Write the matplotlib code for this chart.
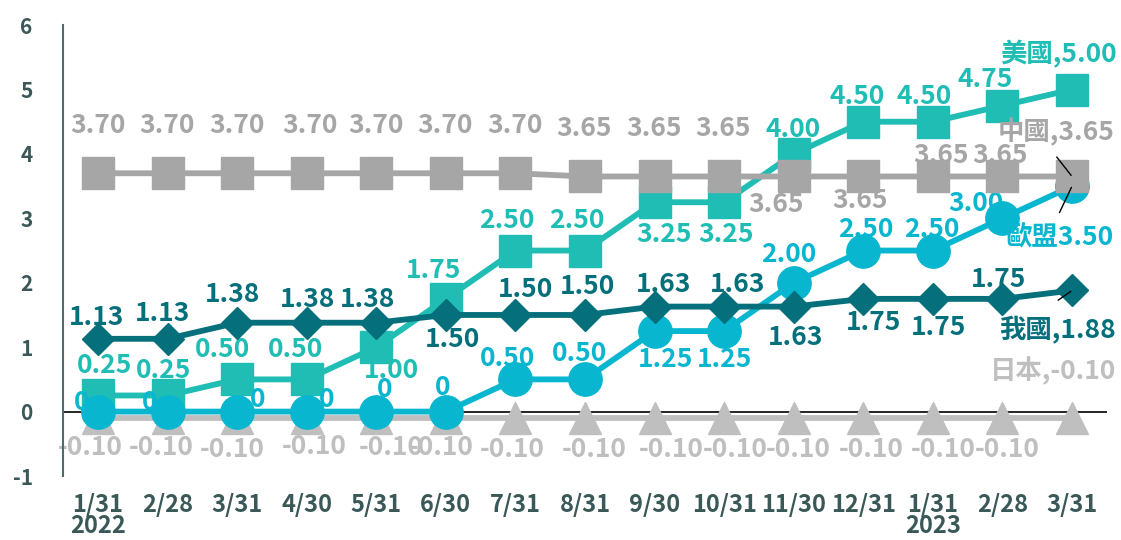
import matplotlib.pyplot as plt

plt.rcParams['font.family'] = ['Noto Sans CJK TC', 'DejaVu Sans']
plt.rcParams['font.weight'] = 'bold'

# 月底日期
dates = ['1/31\n2022', '2/28', '3/31', '4/30', '5/31', '6/30', '7/31', '8/31',
         '9/30', '10/31', '11/30', '12/31', '1/31\n2023', '2/28', '3/31']

# 政策利率 (%)
us = [0.25, 0.25, 0.50, 0.50, 1.00, 1.75, 2.50, 2.50, 3.25, 3.25, 4.00, 4.50, 4.50, 4.75, 5.00]
eu = [0, 0, 0, 0, 0, 0, 0.50, 0.50, 1.25, 1.25, 2.00, 2.50, 2.50, 3.00, 3.50]
tw = [1.13, 1.13, 1.38, 1.38, 1.38, 1.50, 1.50, 1.50, 1.63, 1.63, 1.63, 1.75, 1.75, 1.75, 1.88]
cn = [3.70, 3.70, 3.70, 3.70, 3.70, 3.70, 3.70, 3.65, 3.65, 3.65, 3.65, 3.65, 3.65, 3.65, 3.65]
jp = [-0.10] * 15

# 標籤位移 (像素, dx, dy)
us_off = [(7, 30), (-4, 25), (-15, 30), (-11, 30), (15, -23), (-12, 28), (-9, 30), (-8, 30),
          (9, -32), (2, -32), (-1, 24), (-6, 25), (-9, 25), (-17, 26), (-14, 35)]
cn_off = [(0, 48), (-1, 48), (0, 48), (3, 48), (0, 48), (-1, 48), (0, 48), (-1, 48),
          (-1, 48), (-1, 48), (-18, -28), (-3, -24), (8, 21), (-2, 21), (-16, 44)]
eu_off = [(-16, 9), (-18, 9), (20, 12), (20, 12), (8, 22), (-3, 24), (-8, 21), (-5, 26),
          (11, -28), (0, -28), (-5, 28), (2, 21), (-1, 21), (-27, 15), (-13, -52)]
tw_off = [(-1, 21), (-5, 25), (-5, 28), (1, 23), (-9, 23), (7, -25), (10, 25), (3, 28),
          (9, 22), (13, 22), (2, -31), (10, -24), (6, -29), (-4, 19), (-14, -40)]
jp_off = [(-8, -29), (-6, -29), (-5, -31), (7, -28), (15, -29), (-5, -29), (-3, -31), (9, -31),
          (17, -31), (11, -31), (4, -31), (8, -31), (10, -31), (5, -31), (-19, 47)]

series = [
    ('日本', jp, '#BFBFBF', '^', 23, jp_off, 2),
    ('美國', us, '#20BDB5', 's', 23, us_off, 3),
    ('歐盟', eu, '#08B6CF', 'o', 24, eu_off, 4),
    ('我國', tw, '#05707B', 'D', 16, tw_off, 5),
    ('中國', cn, '#A6A6A6', 's', 23, cn_off, 6),
]

def fmt(v):
    return '0' if v == 0 else f'{v:.2f}'

fig = plt.figure(figsize=(11.21, 5.40), dpi=100)
ax = fig.add_axes([63.2 / 1121, 0.1185, 1043.6 / 1121, 0.835])
x = list(range(len(dates)))

for name, vals, col, mk, ms, offs, z in series:
    ax.plot(x, vals, color=col, lw=4.2, marker=mk, markersize=ms,
            markeredgecolor=col, zorder=z)
    for i, v in enumerate(vals):
        if i == len(vals) - 1:
            txt = f'{name}{v:.2f}' if name == '歐盟' else f'{name},{v:.2f}'
        else:
            txt = fmt(v)
        ax.annotate(txt, (i, v), xytext=offs[i], textcoords='offset pixels',
                    ha='center', va='center', fontsize=19, color=col,
                    fontweight='bold', zorder=z - 0.5)

# 引導線
for vals, d in [(cn, (-11, 14)), (eu, (-9, -19)), (tw, (-10, -7))]:
    ax.annotate('', (14, vals[-1]), xytext=d, textcoords='offset points',
                arrowprops=dict(arrowstyle='-', color='black', lw=1,
                                shrinkA=0, shrinkB=1), zorder=8)

ax.axhline(0, color='black', lw=1.2, zorder=1.5)

ax.set_xlim(-0.5, 14.5)
ax.set_ylim(-1, 6)
ax.set_xticks(x)
ax.set_xticklabels(dates, fontsize=17, color='#3A5858', linespacing=0.88)
ax.set_yticks(range(-1, 7))
ax.set_yticklabels([str(t) for t in range(-1, 7)], fontsize=15, color='#3A5858')
ax.tick_params(axis='both', length=0)
ax.tick_params(axis='x', pad=12)
ax.tick_params(axis='y', pad=22)

for s in ['top', 'right', 'bottom']:
    ax.spines[s].set_visible(False)
ax.spines['left'].set_color('#4F6B6B')
ax.spines['left'].set_linewidth(1.5)

fig.savefig('out.png', dpi=100)
